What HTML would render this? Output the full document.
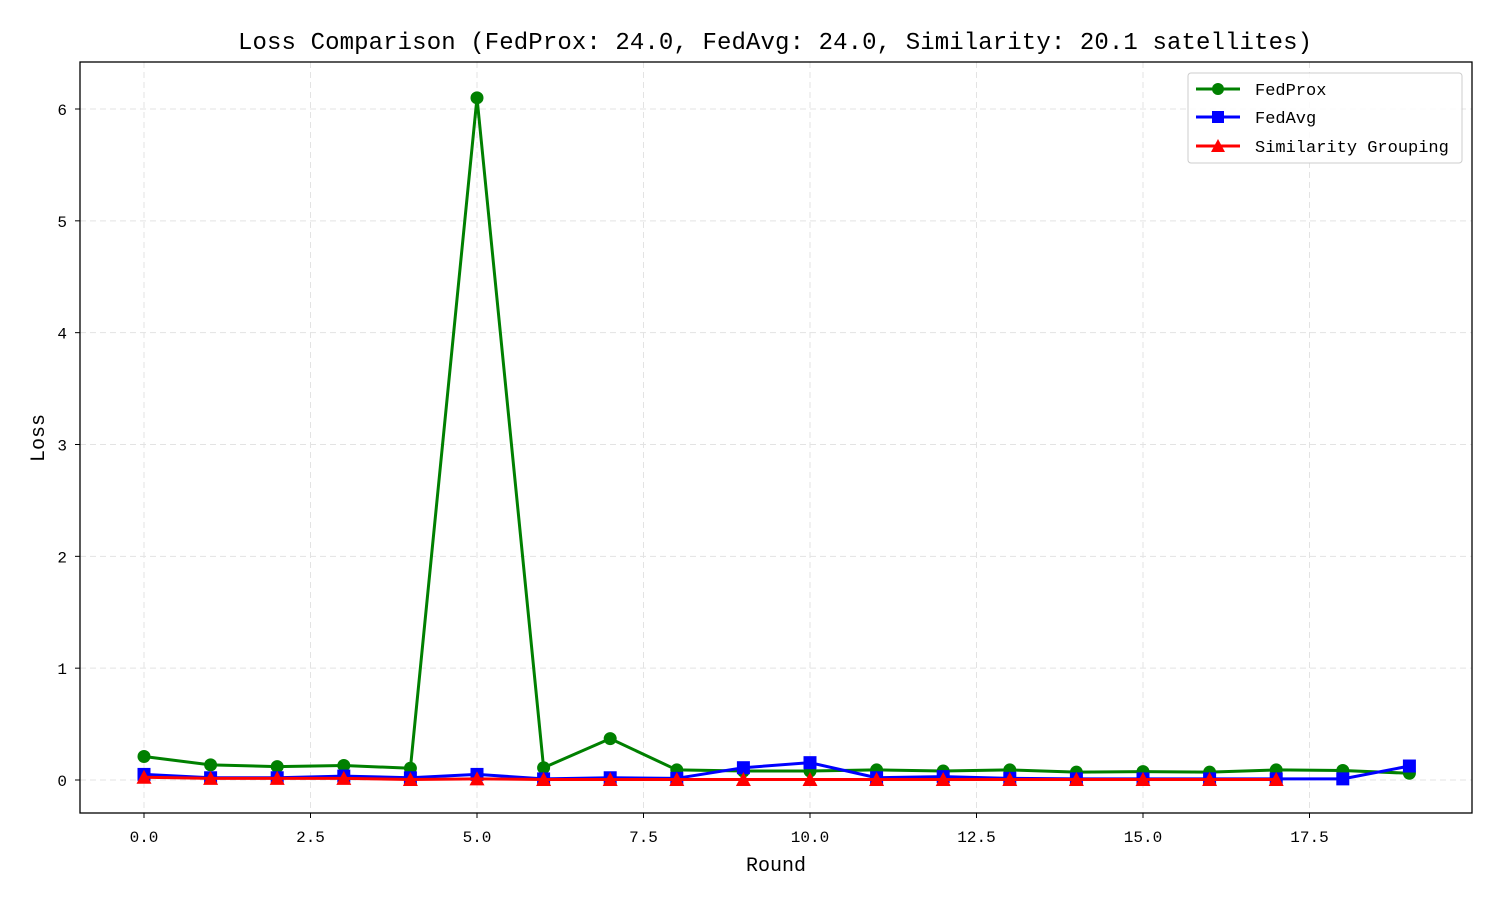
<!DOCTYPE html>
<html><head><meta charset="utf-8"><style>body{margin:0;background:#fff}svg{display:block}text{font-family:"Liberation Mono","WenQuanYi Zen Hei",monospace;fill:#000}</style></head>
<body>
<svg id="chart" width="1500" height="900">
<rect x="0" y="0" width="1500" height="900" fill="#fff"/>
<g id="grid"></g><g id="ticks"></g><g id="series"></g>
<rect x="80" y="62" width="1392" height="751" fill="none" stroke="#000" stroke-width="1.3"/>
<text x="775" y="49" text-anchor="middle" font-size="24" textLength="1074">Loss Comparison (FedProx: 24.0, FedAvg: 24.0, Similarity: 20.1 satellites)</text>
<text x="776" y="871" text-anchor="middle" font-size="20">Round</text>
<text x="44" y="438" text-anchor="middle" font-size="20" transform="rotate(-90 44 438)">Loss</text>
<g>
<rect x="1188" y="73" width="274" height="90" rx="3" fill="#fff" fill-opacity="0.85" stroke="#ccc"/>
<g><line x1="1196" y1="89" x2="1240" y2="89" stroke="green" stroke-width="3"/><circle cx="1218" cy="89" r="6" fill="green"/><text x="1255" y="95" font-size="17">FedProx</text></g>
<g><line x1="1196" y1="117" x2="1240" y2="117" stroke="blue" stroke-width="3"/><rect x="1212" y="111" width="12" height="12" fill="blue"/><text x="1255" y="123" font-size="17">FedAvg</text></g>
<g><line x1="1196" y1="146" x2="1240" y2="146" stroke="red" stroke-width="3"/><polygon points="1218,139 1225,152 1211,152" fill="red"/><text x="1255" y="152" font-size="17">Similarity Grouping</text></g>
</g>
</svg>
<script>
const fedProx=[0.21,0.135,0.12,0.13,0.105,6.1,0.11,0.37,0.09,0.08,0.08,0.09,0.08,0.09,0.07,0.075,0.07,0.09,0.085,0.06];
const fedAvg=[0.05,0.02,0.02,0.035,0.02,0.05,0.01,0.02,0.015,0.11,0.155,0.02,0.03,0.015,0.01,0.01,0.01,0.01,0.01,0.125];
const similarity=[0.025,0.015,0.015,0.015,0.005,0.01,0.005,0.005,0.005,0.005,0.005,0.005,0.005,0.005,0.005,0.005,0.005,0.005];
const xTicks=[0,2.5,5,7.5,10,12.5,15,17.5];
const yTicks=[0,1,2,3,4,5,6];
const NS="http://www.w3.org/2000/svg";
const X=v=>144+v*(477-144)/5;
const Y=v=>780-v*(780-109)/6;
function mk(t,a,p){const e=document.createElementNS(NS,t);for(const k in a)e.setAttribute(k,a[k]);p.appendChild(e);return e;}
const grid=document.getElementById('grid'),ticks=document.getElementById('ticks'),ser=document.getElementById('series');
xTicks.forEach(v=>{
const l=mk('line',{x1:X(v),x2:X(v),y1:62,y2:813,stroke:'#e3e3e3','stroke-dasharray':'6,4'},grid);


mk('line',{x1:X(v),x2:X(v),y1:813,y2:818,stroke:'#000'},ticks);
const t=mk('text',{x:X(v),y:842,'text-anchor':'middle','font-size':'16'},ticks);t.textContent=v.toFixed(1);


});
yTicks.forEach(v=>{
const l=mk('line',{x1:80,x2:1472,y1:Y(v),y2:Y(v),stroke:'#e3e3e3','stroke-dasharray':'6,4'},grid);


mk('line',{x1:75,x2:80,y1:Y(v),y2:Y(v),stroke:'#000'},ticks);
const t=mk('text',{x:67,y:Y(v)+6,'text-anchor':'end','font-size':'16'},ticks);t.textContent=v;


});
function draw(data,color,shape,name){
const g=mk('g',{},ser);


mk('polyline',{points:data.map((v,i)=>X(i)+','+Y(v)).join(' '),fill:'none',stroke:color,'stroke-width':3,'stroke-linejoin':'round'},g);
data.forEach((v,i)=>{const x=X(i),y=Y(v);let m;
if(shape==='c')m=mk('circle',{cx:x,cy:y,r:6.5,fill:color},g);
else if(shape==='s')m=mk('rect',{x:x-6.5,y:y-6.5,width:13,height:13,fill:color},g);
else m=mk('polygon',{points:`${x},${y-7.5} ${x+7.5},${y+6.5} ${x-7.5},${y+6.5}`,fill:color},g);

});
}
draw(fedProx,'green','c','fedprox');
draw(fedAvg,'blue','s','fedavg');
draw(similarity,'red','t','similarity');
</script>
</body></html>
